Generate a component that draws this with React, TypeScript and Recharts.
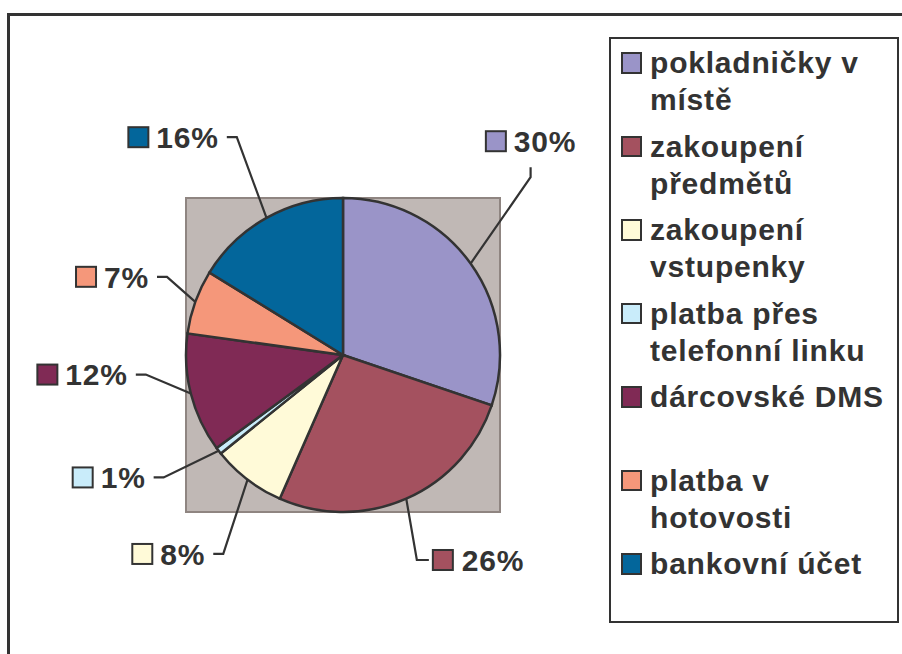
import React from 'react';
import { PieChart, Pie, Cell, Legend, Customized } from 'recharts';

// ---- data ----
const categories = [
  'pokladničky v místě',
  'zakoupení předmětů',
  'zakoupení vstupenky',
  'platba přes telefonní linku',
  'dárcovské DMS',
  'platba v hotovosti',
  'bankovní účet',
];
// shares (labels show them rounded)
const values = [30.2, 26.4, 7.6, 0.7, 12.3, 6.6, 16.2];
const legendLines = [
  ['pokladničky v', 'místě'],
  ['zakoupení', 'předmětů'],
  ['zakoupení', 'vstupenky'],
  ['platba přes', 'telefonní linku'],
  ['dárcovské DMS', ''],
  ['platba v', 'hotovosti'],
  ['bankovní účet'],
];
const colors = ['#9a94c8', '#a4515f', '#fffad8', '#c9ecfa', '#802a55', '#f5977a', '#03669b'];

// ---- layout (label leader elbows relative to slice edge, as placed in the original) ----
const labelLayout: [number, number, 'left' | 'right' | 'top'][] = [
  [60, -86.3, 'top'],
  [10.6, 61.3, 'right'],
  [-24.3, 74.3, 'left'],
  [-55, 26.6, 'left'],
  [-45, -19, 'left'],
  [-28.3, -25, 'left'],
  [-29.7, -80.7, 'left'],
];

const CX = 343;
const CY = 355;
const R = 157;
const FONT = "'Liberation Sans', Arial, Helvetica, sans-serif";
const FS = 30;
const LS = 0.8;
const INK = '#333333';
const RAD = Math.PI / 180;

const data = categories.map((name, i) => ({ name, value: values[i] }));

let ctx: CanvasRenderingContext2D | null = null;
function measure(text: string): number {
  try {
    if (!ctx) ctx = document.createElement('canvas').getContext('2d');
    if (ctx) {
      ctx.font = `bold ${FS}px ${FONT}`;
      return ctx.measureText(text).width + LS * text.length;
    }
  } catch (e) {}
  return text.length * 18;
}

const renderLabel = (props: any) => {
  const { cx, cy, midAngle, outerRadius, index, value } = props;
  const ex = cx + outerRadius * Math.cos(-midAngle * RAD);
  const ey = cy + outerRadius * Math.sin(-midAngle * RAD);
  const [dx, dy, side] = labelLayout[index];
  const bx = ex + dx;
  const by = ey + dy;
  const text = `${Math.round(value)}%`;
  const w = measure(text);
  let pts = '';
  let sqLeft = 0;
  let centerY = by;
  let textX = 0;
  if (side === 'left') {
    const tickEnd = bx - 10;
    pts = `${ex},${ey} ${bx},${by} ${tickEnd},${by}`;
    textX = tickEnd - 8 - w;
    sqLeft = textX - 7 - 22;
  } else if (side === 'right') {
    const tickEnd = bx + 12;
    pts = `${ex},${ey} ${bx},${by} ${tickEnd},${by}`;
    sqLeft = tickEnd + 3;
    textX = sqLeft + 22 + 8;
  } else {
    const tickEnd = by - 10;
    pts = `${ex},${ey} ${bx},${by} ${bx},${tickEnd}`;
    centerY = tickEnd - 26;
    const bw = 22 + 7 + w;
    sqLeft = bx - bw / 2;
    textX = sqLeft + 29;
  }
  return (
    <g key={`lbl-${index}`}>
      <polyline points={pts} fill="none" stroke={INK} strokeWidth={2.2} />
      <rect x={sqLeft + 1} y={centerY - 10} width={20} height={20} fill={colors[index]} stroke={INK} strokeWidth={2} />
      <text
        x={textX}
        y={centerY + 10.7}
        fill={INK}
        fontFamily={FONT}
        fontWeight={700}
        fontSize={FS}
        letterSpacing={LS}
      >
        {text}
      </text>
    </g>
  );
};

const Background = () => (
  <g>
    <path d="M 8.5 654 V 14.5 H 902" fill="none" stroke={INK} strokeWidth={3} />
    <rect x={CX - R} y={CY - R} width={2 * R} height={2 * R} fill="#c0b8b5" stroke="#8f8581" strokeWidth={2} />
  </g>
);

const LegendBox = () => (
  <div
    style={{
      boxSizing: 'border-box',
      width: 290,
      height: 586,
      border: `2px solid ${INK}`,
      background: '#fff',
      paddingTop: 5,
      fontFamily: FONT,
      fontWeight: 700,
      fontSize: FS,
      letterSpacing: LS,
      color: INK,
      textAlign: 'left',
    }}
  >
    {legendLines.map((lines, i) => (
      <div key={i} style={{ position: 'relative', paddingLeft: 39, marginBottom: 9.5, lineHeight: '37px' }}>
        <div
          style={{
            position: 'absolute',
            left: 9.7,
            top: 8,
            width: 21.5,
            height: 21.5,
            boxSizing: 'border-box',
            border: `2px solid ${INK}`,
            background: colors[i],
          }}
        />
        {lines.map((l, j) => (
          <div key={j} style={{ whiteSpace: 'nowrap', height: 37 }}>
            {l || '\u00a0'}
          </div>
        ))}
      </div>
    ))}
  </div>
);

export default function App() {
  return (
    <div style={{ position: 'absolute', left: 0, top: 0, width: 902, height: 654, overflow: 'hidden', background: '#fff' }}>
      <PieChart width={902} height={654} margin={{ top: 0, right: 0, bottom: 0, left: 0 }}>
        <Customized component={Background} />
        <Pie
          data={data}
          dataKey="value"
          nameKey="name"
          cx={CX}
          cy={CY}
          outerRadius={R}
          startAngle={90}
          endAngle={-270}
          stroke={INK}
          strokeWidth={2.5}
          label={renderLabel}
          labelLine={false}
          isAnimationActive={false}
        >
          {data.map((d, i) => (
            <Cell key={d.name} fill={colors[i]} />
          ))}
        </Pie>
        <Legend
          content={() => <LegendBox />}
          wrapperStyle={{ position: 'absolute', left: 609, top: 37, width: 290, height: 586 }}
        />
      </PieChart>
    </div>
  );
}
